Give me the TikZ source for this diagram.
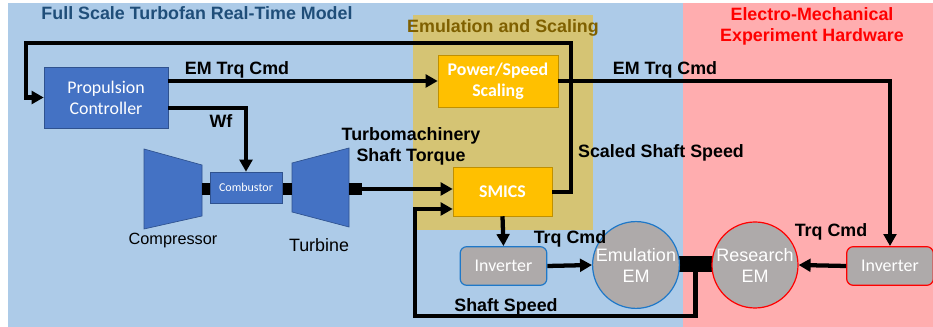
\documentclass[tikz,border=0pt]{standalone}
\usepackage{fontspec}
\setmainfont{Liberation Sans}
\newfontfamily\calibri{Carlito}
\usepackage{tikz}
\usetikzlibrary{arrows.meta}
\definecolor{ModelBlue}{HTML}{ADCBE8}
\definecolor{HwRed}{HTML}{FFADAF}
\definecolor{EmuTan}{HTML}{D5C474}
\definecolor{BoxBlue}{HTML}{4472C4}
\definecolor{BoxBlueEdge}{HTML}{2F528F}
\definecolor{ScaleGold}{HTML}{FFC000}
\definecolor{ScaleGoldEdge}{HTML}{C09000}
\definecolor{MotorGrey}{HTML}{AEAAAA}
\definecolor{EdgeBlue}{HTML}{1F78C8}
\definecolor{TitleBlue}{HTML}{1F4E79}
\definecolor{TitleBrown}{HTML}{7F6000}

\begin{document}
\begin{tikzpicture}[
  x=0.75pt,y=-0.75pt,
  font=\fontsize{13.4}{15.75}\selectfont,
  ctrlbox/.style={draw=BoxBlueEdge,fill=BoxBlue,text=white,align=center,inner sep=0pt,
    font=\calibri\fontsize{13.4}{15.75}\selectfont},
  scalebox/.style={draw=ScaleGoldEdge,fill=ScaleGold,text=white,align=center,inner sep=0pt,
    font=\calibri\bfseries\fontsize{13.4}{15.75}\selectfont},
  invbox/.style={fill=MotorGrey,text=white,rounded corners=5pt,inner sep=0pt,line width=0.9pt,
    minimum width=65pt,minimum height=29pt,font=\calibri\fontsize{13.4}{15.75}\selectfont},
  motor/.style={circle,fill=MotorGrey,text=white,align=center,inner sep=0pt,line width=0.9pt,
    minimum size=64.5pt,font=\fontsize{13.5}{15.75}\selectfont},
  stub/.style={fill=black,inner sep=0pt,minimum height=9pt},
  turbo/.style={fill=BoxBlue,draw=BoxBlueEdge,line width=0.5pt},
  lbl/.style={inner sep=0pt,align=center,font=\bfseries\fontsize{13.4}{15.75}\selectfont},
  title/.style={inner sep=0pt,align=center,font=\bfseries\fontsize{13.4}{15.75}\selectfont},
  arrow/.style={-{Triangle[length=9pt,width=9.5pt]},line width=3.2pt},
  wire/.style={line width=3.2pt}
]
  \useasboundingbox (0,0) rectangle (933,327);
  % regions
  \fill[ModelBlue] (8,3) rectangle (683,327);
  \fill[HwRed] (683,3) rectangle (933,327);
  \fill[EmuTan] (413,15) rectangle (593,230);

  \node[title,text=TitleBlue] (ttlmodel) at (197,13) {Full Scale Turbofan Real-Time Model};
  \node[title,text=TitleBrown] (ttlemu) at (503,28) {Emulation and Scaling};
  \node[title,text=red] (ttlhw) at (812,26) {Electro-Mechanical\\Experiment Hardware};

  % blocks
  \node[ctrlbox,minimum width=93pt,minimum height=45.75pt] (prop) at (106,97.5) {Propulsion\\Controller};
  \node[scalebox,minimum width=90pt,minimum height=39pt] (scale) at (498,81) {Power/Speed\\Scaling};
  \node[scalebox,minimum width=74.25pt,minimum height=36.75pt] (smics) at (502.5,191.5) {SMICS};
  \node[invbox,draw=EdgeBlue] (invL) at (503.5,266) {Inverter};
  \node[invbox,draw=red] (invR) at (890,266) {Inverter};

  % gas turbine
  \draw[turbo] (144,149) -- (202,165) -- (202,216) -- (144,229) -- cycle;
  \draw[turbo] (292,163) -- (349,148) -- (349,227) -- (292,212) -- cycle;
  \node[stub,minimum width=6pt] (cstub) at (206,189) {};
  \node[stub,minimum width=7.5pt] (tstubL) at (287,189) {};
  \node[stub,minimum width=9.75pt] (tstub) at (355.5,189) {};
  \node[ctrlbox,minimum width=54pt,minimum height=23.25pt,font=\calibri\fontsize{9}{11}\selectfont] (comb) at (246,187.5) {Combustor};
  \node[inner sep=0pt,font=\fontsize{12.2}{15}\selectfont] (compr) at (173,241) {Compressor};
  \node[inner sep=0pt] (turb) at (319,245) {Turbine};

  % motors and shaft
  \node[stub,minimum width=26.25pt,minimum height=12pt] (shaft) at (695.5,264) {};
  \node[motor,draw=EdgeBlue] (emuEM) at (636,265) {Emulation\\EM};
  \node[motor,draw=red] (resEM) at (755,265) {Research\\EM};

  % signals
  \coordinate (topR) at (571,43);
  \coordinate (topL) at (26,43);
  \coordinate (spdL) at (415,316);
  \draw[arrow] (smics.east |- 0,192) -| (topR) -- (topL) |- (prop.west);
  \draw[arrow] (prop.east |- scale.west) -- (scale.west);
  \draw[arrow] (prop.east |- 0,108) -| (comb.north);
  \draw[arrow] (scale.east) -| (invR.north);
  \draw[arrow] (tstub.east) -- (smics.west |- tstub.east);
  \draw[arrow] (shaft.south) |- (spdL) |- (smics.west |- 0,209);
  \draw[arrow] (smics.south) -- (invL.north);
  \draw[arrow] (invL.east) -- (emuEM.west);
  \draw[arrow] (invR.west) -- (resEM.east);

  % labels
  \node[lbl] (lblcmd) at (237,70) {EM Trq Cmd};
  \node[lbl] (lblwf) at (221,121) {Wf};
  \node[lbl] (lbltq) at (411,146.5) {Turbomachinery\\Shaft Torque};
  \node[lbl] (lblscl) at (661,153) {Scaled Shaft Speed};
  \node[lbl] (lblcmdR) at (665,70) {EM Trq Cmd};
  \node[lbl] (lbltrqL) at (570,239) {Trq Cmd};
  \node[lbl] (lbltrqR) at (831,232) {Trq Cmd};
  \node[lbl] (lblspd) at (506,307) {Shaft Speed};
\end{tikzpicture}
\end{document}
